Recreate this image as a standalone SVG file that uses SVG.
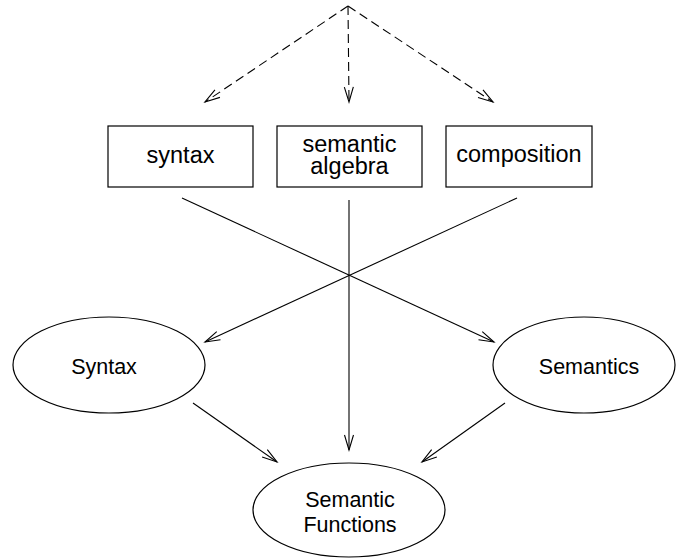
<svg xmlns="http://www.w3.org/2000/svg" width="677" height="559" viewBox="0 0 677 559">
<style>
.box{fill:#fff;stroke:#000;stroke-width:1.2}
.ell{fill:#fff;stroke:#000;stroke-width:1.2}
.t1{font-family:"Liberation Sans",Arial,sans-serif;font-size:23.5px;fill:#000;text-anchor:middle}
.t2{font-family:"Liberation Sans",Arial,sans-serif;font-size:21.5px;fill:#000;text-anchor:middle}
.edge{stroke:#000;stroke-width:1.1;fill:none;marker-end:url(#arr)}
.dash{stroke-dasharray:9,5}
</style>
<defs>
<marker id="arr" markerUnits="userSpaceOnUse" markerWidth="18" markerHeight="12" refX="15" refY="5" orient="auto" overflow="visible">
<path d="M0,0.5 L15,5 L0,9.5" fill="none" stroke="#000" stroke-width="1.1" stroke-dasharray="none"/>
</marker>
</defs>
<g id="connectors">
<line class="edge dash" x1="348" y1="6" x2="205" y2="102"/>
<line class="edge dash" x1="348" y1="6" x2="349" y2="102"/>
<line class="edge dash" x1="348" y1="6" x2="493" y2="102"/>
<line class="edge" x1="182" y1="198" x2="494" y2="342"/>
<line class="edge" x1="517" y1="198" x2="205" y2="342"/>
<line class="edge" x1="349" y1="200" x2="349" y2="450"/>
<line class="edge" x1="193" y1="403" x2="277" y2="462"/>
<line class="edge" x1="505" y1="403" x2="422" y2="462"/>
</g>
<g id="box-syntax">
<rect class="box" x="108" y="126" width="145" height="61"/>
<text class="t1" x="180.5" y="163">syntax</text>
</g>
<g id="box-semantic-algebra">
<rect class="box" x="277" y="126" width="145" height="61"/>
<text class="t1" x="349.5" y="152">semantic</text>
<text class="t1" x="349.5" y="174">algebra</text>
</g>
<g id="box-composition">
<rect class="box" x="446" y="126" width="146" height="61"/>
<text class="t1" x="519" y="162">composition</text>
</g>
<g id="ell-syntax">
<ellipse class="ell" cx="109" cy="365" rx="96" ry="48"/>
<text class="t2" x="104" y="374">Syntax</text>
</g>
<g id="ell-semantics">
<ellipse class="ell" cx="584" cy="365" rx="91" ry="48"/>
<text class="t2" x="589" y="374">Semantics</text>
</g>
<g id="ell-semantic-functions">
<ellipse class="ell" cx="349" cy="510" rx="96" ry="47"/>
<text class="t2" x="350" y="507">Semantic</text>
<text class="t2" x="350" y="532">Functions</text>
</g>
</svg>
